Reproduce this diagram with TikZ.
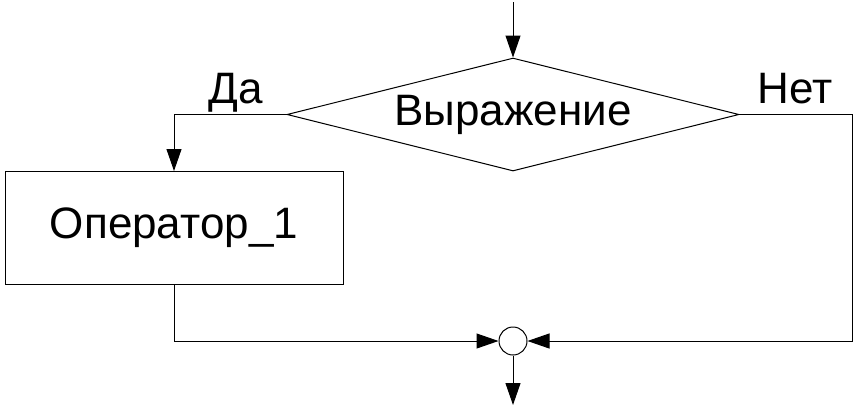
\documentclass[tikz,border=0pt]{standalone}
\usepackage{fontspec}
\setmainfont{Liberation Sans}
\usetikzlibrary{shapes.geometric,arrows.meta}

\begin{document}
\begin{tikzpicture}[x=1pt,y=-1pt,line width=1pt,
    tip/.style={-{Triangle[length=22pt,width=15pt]}},
    txt/.style={font=\fontsize{44}{52}\selectfont},
    blok/.style={draw,rectangle,minimum width=338pt,minimum height=113pt,inner sep=0pt,txt},
    romb/.style={draw,diamond,shape aspect=4,minimum width=452pt,minimum height=113pt,inner sep=0pt,txt},
    uzel/.style={draw,circle,minimum size=28pt,inner sep=0pt}]
	%\draw[color=gray,step=10pt,help lines,opacity=0.3] (0,0) grid (856,408); %help grid
	\useasboundingbox (0,0) rectangle (856,408);
	% blocks
	\node[romb] (vyr) at (513,114.5) {Выражение};
	\node[blok] (op1) at (174,228) {Оператор\_1};
	\node[uzel] (soed) at (513,341) {};
	\node[txt,anchor=base] (da) at (236,103) {Да};
	\node[txt,anchor=base] (net) at (795,103) {Нет};
	\coordinate (vhod) at (513,2);
	\coordinate (vyhod) at (513,405);
	\coordinate (ugol) at (852,341);
	% connectors
	\draw[tip] (vhod) -- (vyr.north);
	\draw[tip] (vyr.west) -| (op1.north);
	\draw[tip] (op1.south) |- (soed.west);
	\draw[tip] (vyr.east) -| (ugol) -- (soed.east);
	\draw[tip] (soed.south) -- (vyhod);
\end{tikzpicture}
\end{document}
